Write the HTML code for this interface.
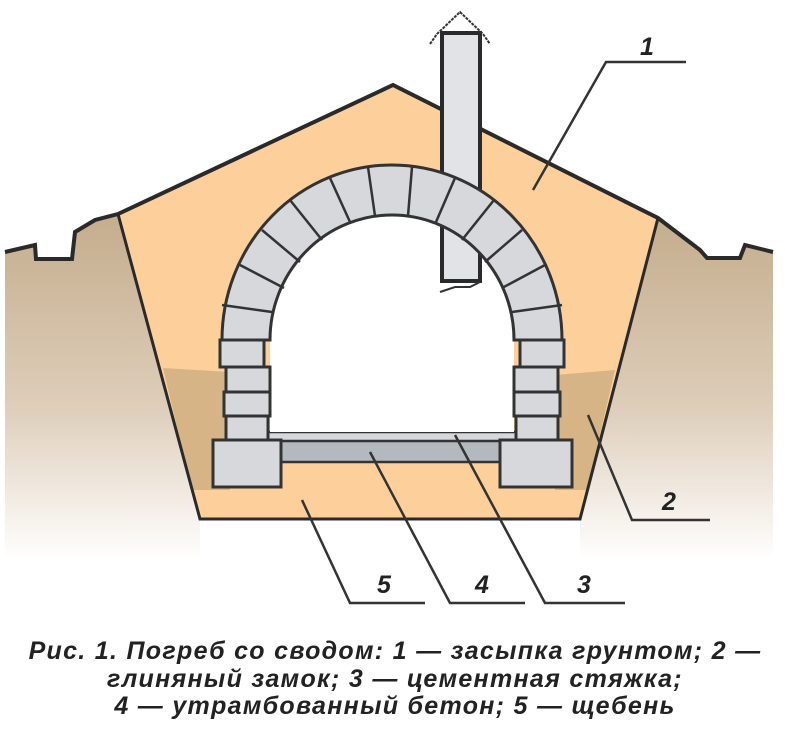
<!DOCTYPE html>
<html><head><meta charset="utf-8"><style>
html,body{margin:0;padding:0;background:#fff;}
svg{display:block}
</style></head><body>
<svg width="785" height="740" viewBox="0 0 785 740" xmlns="http://www.w3.org/2000/svg">
<defs>
<linearGradient id="g" x1="0" y1="0" x2="0" y2="1">
<stop offset="0" stop-color="#c5ad8d"/><stop offset="0.55" stop-color="#ddcdb9"/><stop offset="1" stop-color="#fff"/>
</linearGradient>
</defs>
<path d="M5,250 L15,250 L35,245 L36,259 L72,259 L75,232 L95,220 L118,214 L200,519 L200,560 L5,560 Z" fill="url(#g)"/>
<path d="M658,218 L700,250 L707,258 L740,258 L745,245 L773,252 L773,560 L580,560 L580,519 Z" fill="url(#g)"/>
<path d="M118,214 L393,85 L658,218 L580,519 L200,519 Z" fill="#fdd09b"/>
<path d="M163,368 L230,372 L230,490 L192,490 Z" fill="#d7b486"/>
<path d="M555,375 L615,370 L587,490 L555,490 Z" fill="#d7b486"/>
<path d="M5,252 L35,245 L36,259 L72,259 L75,232 L95,220 L118,214 L393,85 L658,218 L700,250 L707,258 L740,258 L745,245 L773,252" fill="none" stroke="#2a2a2a" stroke-width="4"/>
<path d="M118,214 L200,519 L580,519 L658,218" fill="none" stroke="#2a2a2a" stroke-width="3"/>
<rect x="268" y="432" width="250" height="10" fill="#d6d8dc" stroke="#333" stroke-width="2.5"/>
<rect x="280" y="441" width="222" height="21" fill="#b4b8bf" stroke="#333" stroke-width="2.5"/>
<path d="M270,340 A122,125 0 0 1 514,340 L514,432 L270,432 Z" fill="#fff"/>
<rect x="442" y="33" width="38" height="248" fill="#e2e3e6" stroke="#2a2a2a" stroke-width="4"/>
<path d="M222,340 A170,175 0 0 1 562,340 L514,340 A122,125 0 0 0 270,340 Z" fill="#d6d8dc" stroke="#333" stroke-width="3"/>
<g stroke="#333" stroke-width="2.5">
<line x1="240" y1="265" x2="284" y2="288"/><line x1="262" y1="230" x2="300" y2="262"/>
<line x1="290" y1="200" x2="322" y2="240"/><line x1="330" y1="178" x2="350" y2="222"/>
<line x1="368" y1="167" x2="375" y2="216"/><line x1="412" y1="167" x2="408" y2="216"/>
<line x1="455" y1="178" x2="436" y2="222"/><line x1="494" y1="200" x2="462" y2="240"/>
<line x1="522" y1="230" x2="485" y2="262"/><line x1="545" y1="265" x2="502" y2="288"/>
<line x1="222" y1="305" x2="272" y2="312"/><line x1="562" y1="305" x2="512" y2="312"/>
</g>
<g fill="#d6d8dc" stroke="#333" stroke-width="3">
<rect x="220" y="340" width="44" height="27"/><rect x="226" y="367" width="44" height="25"/>
<rect x="224" y="392" width="46" height="24"/><rect x="226" y="416" width="42" height="24"/>
<rect x="213" y="440" width="68" height="47"/>
<rect x="520" y="340" width="44" height="27"/><rect x="514" y="367" width="44" height="25"/>
<rect x="514" y="392" width="46" height="24"/><rect x="516" y="416" width="42" height="24"/>
<rect x="500" y="440" width="72" height="47"/>
</g>
<path d="M430,44 L437,34 L460,12 L483,34 L490,44" fill="none" stroke="#333" stroke-width="2" stroke-dasharray="3,1"/>
<path d="M440,292 L455,287 L470,287 L480,282" fill="none" stroke="#333" stroke-width="2"/>
<g fill="none" stroke="#333" stroke-width="2.5">
<path d="M533,190 L606,62 L686,62"/>
<path d="M588,415 L632,520 L710,520"/>
<path d="M455,435 L545,603 L625,603"/>
<path d="M370,452 L450,603 L525,603"/>
<path d="M302,500 L350,603 L425,603"/>
</g>
<g font-family="Liberation Sans, sans-serif" font-weight="bold" font-style="italic" font-size="25" fill="#222">
<text x="640" y="55">1</text><text x="662" y="510">2</text><text x="577" y="593">3</text><text x="475" y="593">4</text><text x="377" y="593">5</text>
</g>
<g font-family="Liberation Sans, sans-serif" font-weight="bold" font-style="italic" font-size="25" fill="#222" text-anchor="middle" letter-spacing="1.3">
<text x="395" y="659">Рис. 1. Погреб со сводом: 1 — засыпка грунтом; 2 —</text>
<text x="395" y="687">глиняный замок; 3 — цементная стяжка;</text>
<text x="395" y="714">4 — утрамбованный бетон; 5 — щебень</text>
</g>
</svg>
</body></html>
